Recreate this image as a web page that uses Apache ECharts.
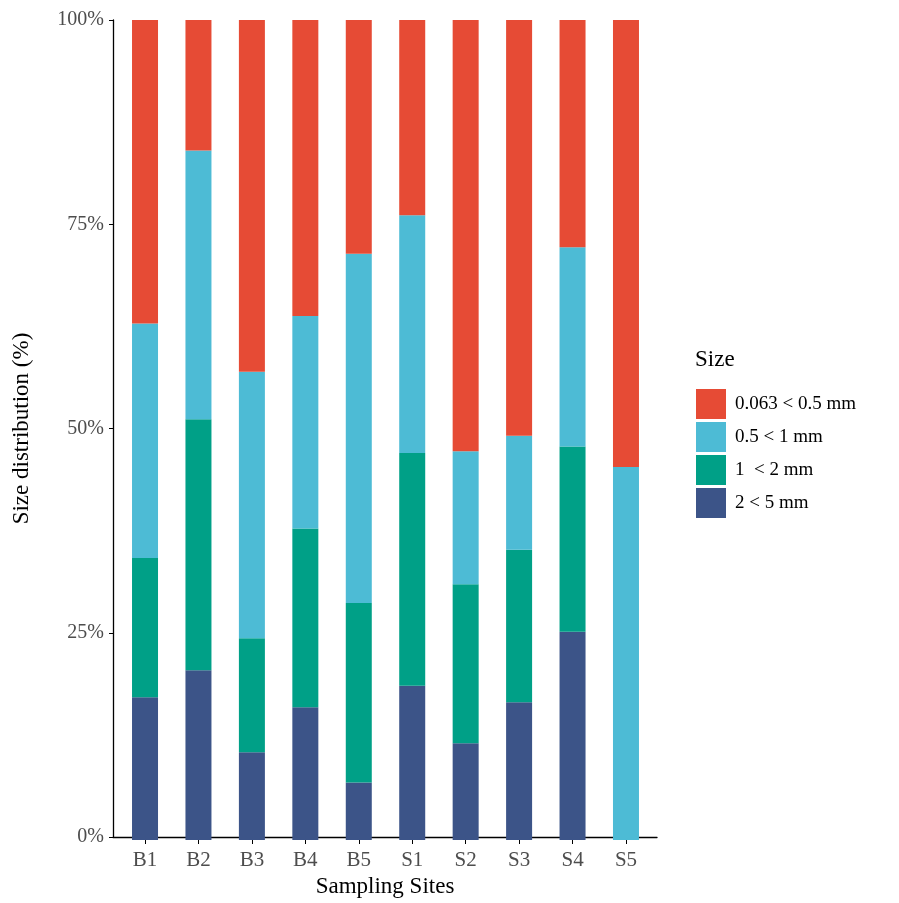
<!DOCTYPE html>
<html>
<head>
<meta charset="utf-8">
<script src="https://cdn.jsdelivr.net/npm/echarts@6/dist/echarts.min.js"></script>
<style>
  html, body { margin: 0; padding: 0; background: #fff; }
  #chart { width: 899px; height: 903px; }
</style>
</head>
<body>
<div id="chart"></div>
<script>
// Sampling sites along the x axis
const sites = ['B1', 'B2', 'B3', 'B4', 'B5', 'S1', 'S2', 'S3', 'S4', 'S5'];

// Share of particles in each size class per site (%)
const size2to5 = [17.4, 20.7, 10.7, 16.2, 7.0, 18.8, 11.8, 16.8, 25.4, 0];
const size1to2 = [17.0, 30.6, 13.9, 21.8, 21.9, 28.4, 19.4, 18.6, 22.6, 0];
const size05to1 = [28.6, 32.8, 32.5, 25.9, 42.6, 29.0, 16.2, 13.9, 24.3, 45.5];
const size0063to05 = [37.0, 15.9, 42.9, 36.1, 28.5, 23.8, 52.6, 50.7, 27.7, 54.5];

// Size class names, smallest class first (legend order)
const sizeClasses = ['0.063 < 0.5 mm', '0.5 < 1 mm', '1  < 2 mm', '2 < 5 mm'];

// Y axis ticks
const yTicks = [0, 25, 50, 75, 100];

const colors = {
  '0.063 < 0.5 mm': '#E64B35',
  '0.5 < 1 mm': '#4DBBD5',
  '1  < 2 mm': '#00A087',
  '2 < 5 mm': '#3C5488'
};

const serif = '"Liberation Serif", "Times New Roman", serif';
const chart = echarts.init(document.getElementById('chart'));

// Stacked from the bottom: largest particles first
const stackOrder = [
  [sizeClasses[3], size2to5],
  [sizeClasses[2], size1to2],
  [sizeClasses[1], size05to1],
  [sizeClasses[0], size0063to05]
];

const series = stackOrder.map(([name, values]) => ({
  name: name,
  type: 'bar',
  stack: 'size',
  xAxisIndex: 0,
  yAxisIndex: 0,
  barWidth: 26,
  itemStyle: { color: colors[name] },
  data: values
}));

chart.setOption({
  animation: false,
  backgroundColor: '#ffffff',
  title: {
    text: 'Size',
    left: 690,
    top: 343,
    textStyle: { fontFamily: serif, fontSize: 23, fontWeight: 'normal', color: '#000' }
  },
  legend: {
    data: sizeClasses,
    orient: 'vertical',
    left: 691,
    top: 384,
    itemWidth: 30,
    itemHeight: 30,
    itemGap: 3,
    icon: 'rect',
    textStyle: { fontFamily: serif, fontSize: 19, color: '#000', padding: [0, 0, 0, 4] }
  },
  grid: [
    // bar panel (category bands)
    { left: 118.3, right: 246.3, top: 20, bottom: 63, containLabel: false },
    // full panel for the axis lines
    { left: 113, right: 242, top: 20, bottom: 63, containLabel: false }
  ],
  xAxis: [
    {
      type: 'category',
      gridIndex: 0,
      data: sites,
      boundaryGap: true,
      axisLine: { show: false },
      axisTick: { show: true, alignWithLabel: true, length: 4, lineStyle: { color: '#000', width: 1 } },
      axisLabel: { fontFamily: serif, fontSize: 21, color: '#4D4D4D', margin: 10 },
      splitLine: { show: false }
    },
    {
      type: 'value',
      gridIndex: 1,
      min: 0,
      max: 1,
      name: 'Sampling Sites',
      nameLocation: 'middle',
      nameGap: 38,
      nameTextStyle: { fontFamily: serif, fontSize: 23, color: '#000' },
      axisLine: { show: true, lineStyle: { color: '#000', width: 1.3 } },
      axisTick: { show: false },
      axisLabel: { show: false },
      splitLine: { show: false }
    }
  ],
  yAxis: [
    {
      type: 'value',
      gridIndex: 0,
      min: 0,
      max: 100,
      show: false,
      splitLine: { show: false }
    },
    {
      type: 'value',
      gridIndex: 1,
      min: yTicks[0],
      max: yTicks[yTicks.length - 1],
      interval: 25,
      name: 'Size distribution (%)',
      nameLocation: 'middle',
      nameGap: 80,
      nameTextStyle: { fontFamily: serif, fontSize: 23, color: '#000' },
      axisLine: { show: true, lineStyle: { color: '#000', width: 1.3 } },
      axisTick: { show: true, length: 4, lineStyle: { color: '#000', width: 1 } },
      axisLabel: { fontFamily: serif, fontSize: 20, color: '#4D4D4D', margin: 9, formatter: '{value}%' },
      splitLine: { show: false }
    }
  ],
  series: series
});
</script>
</body>
</html>
